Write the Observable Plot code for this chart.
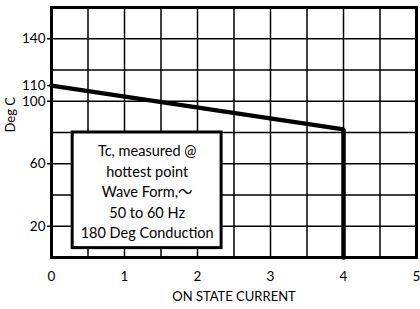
<!DOCTYPE html>
<html>
<head>
<meta charset="utf-8">
<script src="https://cdn.jsdelivr.net/npm/d3@7"></script>
<script src="https://cdn.jsdelivr.net/npm/@observablehq/plot@0.6"></script>
<style>
  html, body { margin: 0; padding: 0; background: #fff; }
  #chart svg { display: block; }
</style>
</head>
<body>
<div id="chart"></div>
<script>
// ---- data ----
const xTickValues = [0, 1, 2, 3, 4, 5];
const yTickValues = [140, 110, 100, 60, 20];
const xGridValues = [0.5, 1, 1.5, 2, 2.5, 3, 3.5, 4, 4.5];
const yGridValues = [20, 40, 60, 80, 100, 120, 140];
const currentA = [0, 4, 4];          // on-state current
const tempC = [110, 82, 0];          // Deg C
const noteLines = ["Tc, measured @", "hottest point", "Wave Form,\u301C", "50 to 60 Hz", "180 Deg Conduction"];
const noteBoxX = [0.29, 2.33];
const noteBoxY = [6, 80];
const xLabel = "ON STATE CURRENT";
const yLabel = "Deg C";

const curve = currentA.map((x, i) => ({x, y: tempC[i]}));

const chart = Plot.plot({
  width: 420,
  height: 309,
  marginLeft: 51,
  marginRight: 4,
  marginTop: 7,
  marginBottom: 52,
  style: {fontFamily: "Lato, 'Liberation Sans', 'Noto Sans CJK JP', sans-serif", fontSize: "13px", color: "#000", background: "#fff"},
  x: {domain: [0, 5], label: null},
  y: {domain: [0, 160], label: null},
  marks: [
    Plot.gridX(xGridValues, {stroke: "#000", strokeOpacity: 1, strokeWidth: 1.5}),
    Plot.gridY(yGridValues, {stroke: "#000", strokeOpacity: 1, strokeWidth: 1.5}),
    Plot.line(curve, {x: "x", y: "y", stroke: "#000", strokeWidth: 4.5, strokeLinejoin: "miter"}),
    Plot.rect([{}], {x1: noteBoxX[0], x2: noteBoxX[1], y1: noteBoxY[0], y2: noteBoxY[1], fill: "#fff", stroke: "#000", strokeWidth: 3}),
    Plot.text([noteLines.join("\n")], {
      x: (noteBoxX[0] + noteBoxX[1]) / 2,
      y: noteBoxY[1],
      text: d => d,
      lineAnchor: "top",
      lineHeight: 1.42,
      dy: 9,
      fontSize: 14.5,
      fill: "#000"
    }),
    Plot.frame({stroke: "#000", strokeWidth: 3}),
    Plot.axisX(xTickValues, {tickSize: 0, tickPadding: 14, fontSize: 13.5, label: null}),
    Plot.axisY(yTickValues, {tickSize: 4, tickPadding: 2, fontSize: 13.5, label: null, strokeWidth: 1.5}),
    Plot.text([xLabel], {frameAnchor: "bottom", dy: 43, fontSize: 13, text: d => d, fill: "#000"}),
    Plot.text([yLabel], {frameAnchor: "left", dx: -41, rotate: -90, fontSize: 13, text: d => d, fill: "#000"})
  ]
});
document.getElementById("chart").append(chart);
</script>
</body>
</html>
